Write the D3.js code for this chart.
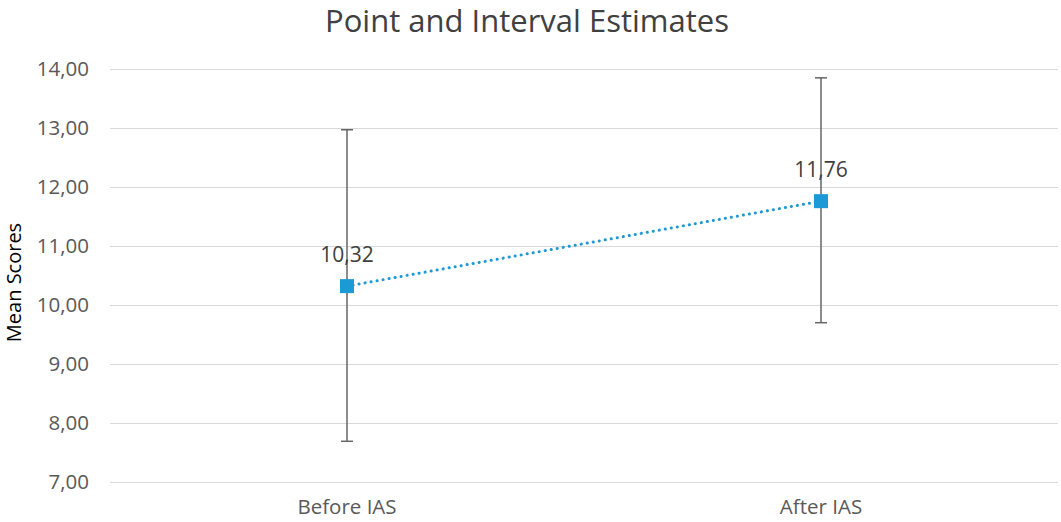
<!DOCTYPE html>
<html><head><meta charset="utf-8">
<script src="https://cdn.jsdelivr.net/npm/d3@7"></script>
<style>body{margin:0;background:#fff;} text{font-family:"Open Sans",sans-serif;}</style>
</head><body>
<svg id="c" width="1061" height="522"></svg>
<script>
const categories = ["Before IAS", "After IAS"];
const means = [10.32, 11.76];
const lower = [7.69, 9.70];
const upper = [12.97, 13.85];
const meanLabels = ["10,32", "11,76"];
const yTicks = [7, 8, 9, 10, 11, 12, 13, 14];

const svg = d3.select("#c");
const m = {left: 110, right: 1058, top: 69, bottom: 482};
const x = d3.scaleBand().domain(categories).range([m.left, m.right]);
const y = d3.scaleLinear().domain([7, 14]).range([m.bottom, m.top]);
const fmt = v => d3.format(".2f")(v).replace(".", ",");

svg.append("text").attr("x", 527).attr("y", 32).attr("text-anchor", "middle")
  .attr("font-size", 31).attr("fill", "#404040").text("Point and Interval Estimates");

const ya = svg.append("g").attr("transform", `translate(${m.left},0)`)
  .call(d3.axisLeft(y).tickValues(yTicks).tickFormat(fmt).tickSize(-(m.right - m.left)).tickPadding(21));
ya.select(".domain").remove();
ya.selectAll(".tick line").attr("stroke", "#d9d9d9").attr("stroke-width", 1);
ya.selectAll(".tick text").attr("font-size", 20.5).attr("fill", "#595959");

const xa = svg.append("g").attr("transform", `translate(0,${m.bottom})`)
  .call(d3.axisBottom(x).tickSize(0).tickPadding(17));
xa.select(".domain").remove();
xa.selectAll(".tick text").attr("font-size", 20.5).attr("fill", "#595959");

svg.append("text").attr("transform", `translate(21,${(m.top + m.bottom) / 2 + 7}) rotate(-90)`)
  .attr("text-anchor", "middle").attr("font-size", 20).attr("fill", "#000").text("Mean Scores");

const cx = d => x(d) + x.bandwidth() / 2;

// error bars
categories.forEach((c, i) => {
  const g = svg.append("g").attr("stroke", "#666").attr("stroke-width", 1.5);
  g.append("line").attr("x1", cx(c)).attr("x2", cx(c)).attr("y1", y(lower[i])).attr("y2", y(upper[i]));
  g.append("line").attr("x1", cx(c) - 6).attr("x2", cx(c) + 6).attr("y1", y(lower[i])).attr("y2", y(lower[i]));
  g.append("line").attr("x1", cx(c) - 6).attr("x2", cx(c) + 6).attr("y1", y(upper[i])).attr("y2", y(upper[i]));
});

// dotted line
svg.append("path").datum(categories.map((c, i) => [cx(c), y(means[i])]))
  .attr("d", d3.line()).attr("fill", "none").attr("stroke", "#1b9ad6")
  .attr("stroke-width", 3).attr("stroke-linecap", "round").attr("stroke-dasharray", "0.1 6");

// markers
svg.selectAll("rect.mk").data(categories).join("rect").attr("class", "mk")
  .attr("x", d => cx(d) - 7).attr("y", (d, i) => y(means[i]) - 7)
  .attr("width", 14).attr("height", 14).attr("fill", "#1b9ad6");

// labels
svg.selectAll("text.lb").data(categories).join("text").attr("class", "lb")
  .attr("x", d => cx(d)).attr("y", (d, i) => y(means[i]) - 24)
  .attr("text-anchor", "middle").attr("font-size", 21).attr("fill", "#404040")
  .text((d, i) => meanLabels[i]);
</script>
</body></html>
